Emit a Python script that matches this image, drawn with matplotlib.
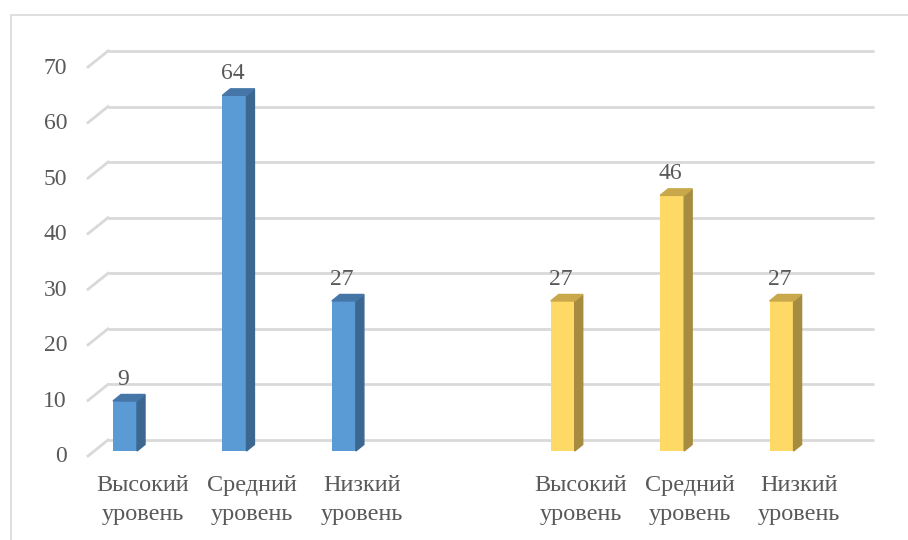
import matplotlib.pyplot as plt
from matplotlib.patches import Polygon, Rectangle
from matplotlib.transforms import ScaledTranslation, IdentityTransform

# category slots (middle slot left empty to split the two groups)
categories = [("Высокий", "уровень"), ("Средний", "уровень"), ("Низкий", "уровень"),
              None,
              ("Высокий", "уровень"), ("Средний", "уровень"), ("Низкий", "уровень")]
blue_values = [9, 64, 27]
yellow_values = [27, 46, 27]
blue_pos = [0, 1, 2]
yellow_pos = [4, 5, 6]
yticks = [0, 10, 20, 30, 40, 50, 60, 70]

W, H, DPI = 908, 540, 100
FONT = 'Liberation Serif'
TXT = '#595959'
GRID = '#D9D9D9'

fig = plt.figure(figsize=(W / DPI, H / DPI), dpi=DPI)

# outer chart frame
fig.patches.append(Rectangle((11 / W, -0.1), 1.2, (H - 15) / H + 0.1,
                             transform=fig.transFigure, fill=False,
                             edgecolor=GRID, lw=1.2))

# back wall of the 3D plot
ax = fig.add_axes([108 / W, (H - 440) / H, (874 - 108) / W, (440 - 51) / H])
ax.set_xlim(-0.5, 6.5)
ax.set_ylim(0, 70)
ax.axis('off')


def px(dx, dy):
    return ScaledTranslation(dx / DPI, dy / DPI, fig.dpi_scale_trans)


floor = ax.transData + px(-20, -16)
front = ax.transData + px(-37.7, -11)
depth = (8, 6.5)
bar_w = 24 / 109.43

# gridlines: flat back line plus the slanted side-wall stub
for v in yticks:
    ax.plot([-0.5, 6.5], [v, v], color=GRID, lw=2, solid_capstyle='butt',
            clip_on=False)
    p0 = floor.transform((-0.5, v))
    p1 = ax.transData.transform((-0.5, v))
    ax.add_line(plt.Line2D([p0[0], p1[0]], [p0[1], p1[1]], color=GRID, lw=2,
                           transform=IdentityTransform(), clip_on=False))
    ax.annotate(str(v), xy=(-0.5, v), xycoords=floor,
                xytext=(-21, -1), textcoords='offset pixels',
                ha='right', va='center', fontsize=17, color=TXT,
                family=FONT, annotation_clip=False)


def draw_bars(pos, vals, face, side, top):
    for x, v in zip(pos, vals):
        ax.bar(x, v, width=bar_w, color=face, transform=front, clip_on=False,
               zorder=3)
        xl, xr = x - bar_w / 2, x + bar_w / 2
        (lx, by), (rx, ty) = front.transform([(xl, 0), (xr, v)])
        dx, dy = depth
        ax.add_patch(Polygon([(rx, by), (rx, ty), (rx + dx, ty + dy),
                              (rx + dx, by + dy)], closed=True, color=side,
                             transform=IdentityTransform(), clip_on=False,
                             zorder=3))
        ax.add_patch(Polygon([(lx, ty), (rx, ty), (rx + dx, ty + dy),
                              (lx + dx, ty + dy)], closed=True, color=top,
                             transform=IdentityTransform(), clip_on=False,
                             zorder=3))
        ax.annotate(str(v), xy=(x, v), xycoords=front,
                    xytext=(-2, 16), textcoords='offset pixels',
                    ha='center', va='baseline', fontsize=17, color=TXT,
                    family=FONT, annotation_clip=False, zorder=4)


draw_bars(blue_pos, blue_values, '#5B9BD5', '#3C6791', '#4676A8')
draw_bars(yellow_pos, yellow_values, '#FFD966', '#A68C41', '#C9A84B')

# category labels under the front edge of the floor, one text per line
for i, lab in enumerate(categories):
    if lab is None:
        continue
    for j, line in enumerate(lab):
        ax.annotate(line, xy=(i, 0), xycoords=floor,
                    xytext=(0, -35 - 29 * j), textcoords='offset pixels',
                    ha='center', va='baseline', fontsize=17.5, color=TXT,
                    family=FONT, annotation_clip=False)

fig.savefig('out.png', dpi=DPI)
